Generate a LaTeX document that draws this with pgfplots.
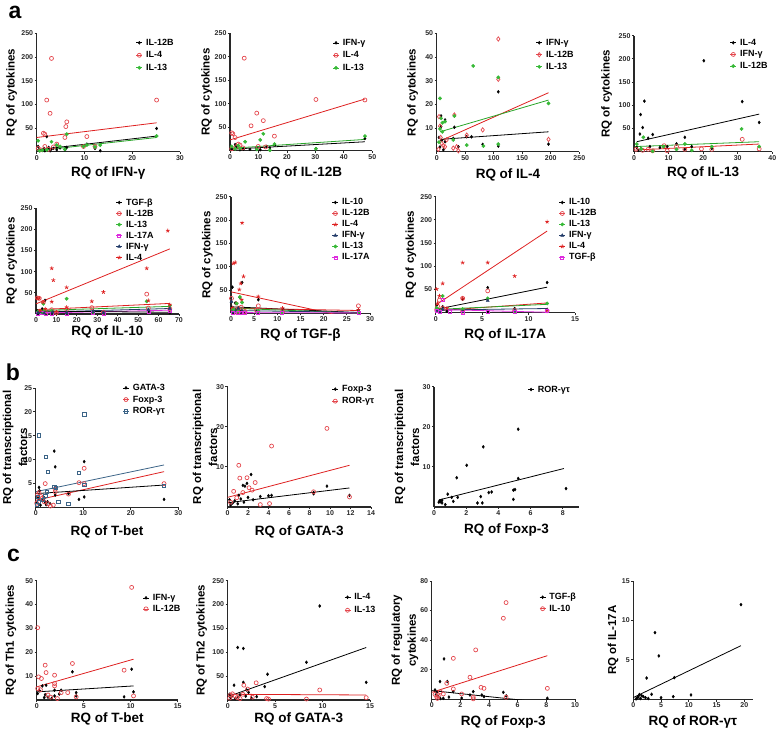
\documentclass[border=0pt]{standalone}
\usepackage{fontspec}
\setmainfont{Liberation Sans}
\usepackage{pgfplots}
\pgfplotsset{compat=1.18}
\definecolor{pred}{RGB}{228,72,78}
\definecolor{lred}{RGB}{222,32,32}
\definecolor{pgreen}{RGB}{55,185,55}
\definecolor{lgreen}{RGB}{40,165,40}
\definecolor{pmag}{RGB}{222,45,222}
\definecolor{pnavy}{RGB}{35,60,105}
\definecolor{psteel}{RGB}{60,100,135}
\definecolor{axc}{RGB}{40,40,40}
\newcommand\tickf{\fontsize{7}{8}\selectfont\bfseries}
\newcommand\xlabf{\fontsize{13.5}{15}\selectfont\bfseries}
\newcommand\ylabf{\fontsize{11.5}{16}\selectfont\bfseries}
\newcommand\legf{\fontsize{9}{10}\selectfont\bfseries}
\newcommand\panelf{\fontsize{23}{25}\selectfont\bfseries}
\pgfplotsset{
 prism/.style={
  scale only axis, anchor=south west,
  axis x line=bottom, axis y line=left,
  axis line style={-, line width=1.1pt, draw=axc},
  every inner x axis line/.append style={-},
  every inner y axis line/.append style={-},
  every outer x axis line/.append style={-},
  every outer y axis line/.append style={-},
  tick style={line width=0.8pt, draw=axc},
  tick align=outside, major tick length=2.2pt,
  ticklabel style={font=\tickf, text=axc, inner sep=1.2pt},
  /pgf/number format/assume math mode=true,
  /pgf/number format/1000 sep={},
  legend cell align=left,
  legend style={draw=none, fill=none, inner sep=0pt, outer sep=0pt, anchor=north west, font=\legf, column sep=3pt, row sep=3.5pt, nodes={inner sep=0.5pt, text height=6.5pt, text depth=1.5pt}},
  legend image code/.code={\draw[#1, mark=none, line width=0.6pt] (0pt,0pt) -- (6pt,0pt); \draw[#1] plot coordinates {(3pt,0pt)};},
 },
 xlsh/.style={every axis x label/.style={at={(axis description cs:0.5,0)},yshift=#1,anchor=center,font=\xlabf}},
 ylsh/.style={every axis y label/.style={at={(axis description cs:0,0.5)},xshift=#1,rotate=90,anchor=center,font=\ylabf,align=center}},
 bk/.style={only marks, mark=diamond*, mark size=1.5pt, black},
 rc/.style={only marks, mark=o, mark size=2pt, pred, line width=0.7pt},
 rd/.style={only marks, mark=diamond, mark size=2.2pt, pred, line width=0.7pt},
 gn/.style={only marks, mark=*, mark size=1.7pt, pgreen},
 mg/.style={only marks, mark=square, mark size=1.5pt, pmag, line width=0.7pt},
 nv/.style={only marks, mark=triangle*, mark size=1.8pt, pnavy},
 st/.style={only marks, mark=star, mark size=2pt, lred, line width=0.7pt},
 sb/.style={only marks, mark=square, mark size=1.7pt, psteel, line width=0.7pt},
 fit/.style={no marks, line width=0.8pt, forget plot},
}
\begin{document}
\begin{tikzpicture}
\useasboundingbox (0,0) rectangle (778pt,730pt);
\node[font=\panelf] at (15pt,718pt) {a};
\node[font=\panelf] at (13pt,358pt) {b};
\node[font=\panelf] at (13.5pt,175pt) {c};
% ---------- P1
\begin{axis}[prism, at={(36.7pt,578.3pt)}, width=143.3pt, height=118.4pt,
 xmin=0,xmax=30,ymin=0,ymax=250, xtick={0,10,20,30}, ytick={50,100,150,200,250},
 xlsh=-21.3pt, ylsh=-25pt, xlabel={RQ of IFN-γ}, ylabel={RQ of cytokines},
 legend style={at={(axis description cs:0.693,0.958)}}]
\addplot[bk] coordinates {(0.3,11) (0.5,5) (1.2,3) (1.7,2) (2.1,32) (2.8,2) (3.1,6) (3.5,7) (4.2,4) (4.9,8) (6.3,9) (6.1,6) (10.5,16) (12.2,7) (13.3,2) (25.1,49) (5.9,4) (1.5,7) (2.5,9)};
\addlegendentry{IL-12B}
\addplot[rc] coordinates {(3.1,197) (2.1,109) (2.8,81) (6.3,63) (6.1,53) (5.9,30) (1.4,39) (1.7,37) (10.5,32) (25.1,109) (1.7,11) (0.3,7) (9.8,11) (12.2,11) (3.5,10) (4.2,16) (0.8,4) (2.5,5)};
\addlegendentry{IL-4}
\addplot[gn] coordinates {(0.3,23) (6.3,37) (3.1,21) (13.3,14) (25.1,33) (9.8,11) (4.9,11) (1.2,3) (2.1,4) (12.2,10) (5.9,5) (0.6,2) (10.5,14) (4.2,14)};
\addlegendentry{IL-13}
\addplot[fit,lred] coordinates {(0,30) (25.1,61)};
\addplot[fit,black] coordinates {(0,4) (25.1,33)};
\addplot[fit,lgreen] coordinates {(0,2) (25.1,30)};
\end{axis}
% ---------- P2
\begin{axis}[prism, at={(230pt,579.3pt)}, width=142.3pt, height=117.4pt,
 xmin=0,xmax=50,ymin=0,ymax=250, xtick={0,10,20,30,40,50}, ytick={50,100,150,200,250},
 xlsh=-22.6pt, ylsh=-23.3pt, xlabel={RQ of IL-12B}, ylabel={RQ of cytokines},
 legend style={at={(axis description cs:0.722,0.957)}}]
\addplot[bk] coordinates {(47.4,26) (30.2,4) (15.8,12) (12.9,9) (9.4,5) (2.3,9) (0.6,3) (4.7,3) (7.0,3) (1.8,13) (3.5,2) (10.6,2) (14,6)};
\addlegendentry{IFN-γ}
\addplot[rc] coordinates {(5.0,197) (30.2,109) (47.4,108) (9.4,80) (7.4,53) (11.7,64) (15.6,31) (0.6,38) (1.0,36) (1.8,28) (2.9,14) (3.5,12) (9.9,9) (2.3,9) (0.6,4) (4.5,6) (12.5,8)};
\addlegendentry{IL-4}
\addplot[gn] coordinates {(5.3,19) (11.7,36) (10.6,23) (47.4,31) (15.6,14) (14,1) (0.6,9) (3.5,5) (1.8,4) (2.9,11) (30.2,4) (9.4,3)};
\addlegendentry{IL-13}
\addplot[fit,lred] coordinates {(0,23) (47.4,110)};
\addplot[fit,lgreen] coordinates {(0,5) (47.4,24)};
\addplot[fit,black] coordinates {(0,3) (47.4,19)};
\end{axis}
% ---------- P3
\begin{axis}[prism, at={(436.7pt,578.3pt)}, width=142.6pt, height=118.4pt,
 xmin=0,xmax=250,ymin=0,ymax=50, xtick={0,50,100,150,200,250}, ytick={10,20,30,40,50},
 xlsh=-23.3pt, ylsh=-24pt, xlabel={RQ of IL-4}, ylabel={RQ of cytokines},
 legend style={at={(axis description cs:0.696,0.958)}, row sep=3pt}]
\addplot[bk] coordinates {(108,25.3) (7.6,15.1) (14.6,13.4) (31,10.3) (7.6,10.6) (52.6,6.3) (61,6.3) (29,5.6) (14.6,4.2) (196,3.2) (108,2.4) (80.6,3.1) (38,2.1) (5.8,2) (8.8,4.8) (11.7,0.8) (4,6)};
\addlegendentry{IFN-γ}
\addplot[rd] coordinates {(108,47.6) (108,30.6) (31,15.5) (80.6,9.2) (52.6,7) (196,5.2) (5.8,10.8) (8.8,3.5) (11.7,2.5) (14.6,2.1) (35,2.1) (38,0.4) (29,1.5) (3,1) (17.5,5) (7,6) (4,14.8)};
\addlegendentry{IL-12B}
\addplot[gn] coordinates {(64,36.2) (108,31.4) (5.8,22.5) (196,20.4) (31,15.1) (7.6,14.1) (10,12.2) (14.6,12.7) (52.6,2.8) (108,3.2) (82,2.4) (10,8.4) (5.8,9.6) (29,5) (4,4)};
\addlegendentry{IL-13}
\addplot[fit,lred] coordinates {(3,4.2) (196,24.9)};
\addplot[fit,lgreen] coordinates {(5.8,8.4) (196,21.8)};
\addplot[fit,black] coordinates {(5.8,5.2) (196,8.4)};
\end{axis}
% ---------- P4
\begin{axis}[prism, at={(634pt,578.3pt)}, width=138.3pt, height=116pt,
 xmin=0,xmax=40,ymin=0,ymax=250, xtick={0,10,20,30,40}, ytick={50,100,150,200,250},
 xlsh=-21.6pt, ylsh=-27.3pt, xlabel={RQ of IL-13}, ylabel={RQ of cytokines},
 legend style={at={(axis description cs:0.694,0.978)}, row sep=2.7pt}]
\addplot[bk] coordinates {(20.2,196) (31.3,108) (3,109) (1.9,80) (2.5,52) (5.4,37) (1.7,38) (36.2,63) (14.7,31) (4.1,29) (0.8,9) (4.6,11) (7.5,9) (9.6,11) (12.3,17) (16.7,11) (22.5,7) (2.0,6) (14.7,5) (1.2,3)};
\addlegendentry{IL-4}
\addplot[rc] coordinates {(31.3,26.6) (8.7,13) (12.3,11) (36.2,6) (0.6,5) (4.1,5) (14.7,5) (22.5,5) (19.5,6) (2.5,3) (5.4,2) (9.6,2)};
\addlegendentry{IFN-γ}
\addplot[gn] coordinates {(2.7,31) (31.1,49) (0.8,16.5) (14.7,16.5) (36.2,11) (8.5,11) (22.5,11) (2.1,6) (5.4,1) (12.3,5) (16.7,3)};
\addlegendentry{IL-12B}
\addplot[fit,black] coordinates {(0.8,21.5) (36.2,81)};
\addplot[fit,lgreen] coordinates {(0.3,11) (36.2,21.5)};
\addplot[fit,lred] coordinates {(0.3,3.6) (36.2,16.5)};
\end{axis}
% ---------- P5
\begin{axis}[prism, at={(36pt,416pt)}, width=143pt, height=105.7pt,
 xmin=0,xmax=70,ymin=0,ymax=250, xtick={0,10,20,30,40,50,60,70}, ytick={50,100,150,200,250},
 xlsh=-17.5pt, ylsh=-24.3pt, xlabel={RQ of IL-10}, ylabel={RQ of cytokines},
 legend style={at={(axis description cs:0.559,1.097)}, row sep=2pt}]
\addplot[bk] coordinates {(4.4,32) (3.0,12) (0.5,8) (1.5,5) (2.2,3) (7.7,5) (15,4) (28,7) (55,6) (65.5,3) (8.5,2) (33,2) (1.0,2)};
\addlegendentry{TGF-β}
\addplot[rc] coordinates {(54.2,47) (27.3,15) (15,11) (7.7,10) (0.7,38) (1.6,37) (3.6,28) (65.5,12) (2,6) (4.5,5) (33,4) (10,3) (55,14)};
\addlegendentry{IL-12B}
\addplot[gn] coordinates {(15,36) (3.6,24) (54.2,30) (65.5,20) (1,6) (7.7,8) (28,5) (2.5,3) (4,9)};
\addlegendentry{IL-13}
\addplot[mg] coordinates {(65.5,8) (55,6) (1,1) (3,2) (8,1) (15,1) (28,3) (33,1) (5,0.5)};
\addlegendentry{IL-17A}
\addplot[nv] coordinates {(1,3) (4,2) (8,4) (15,3) (28,6) (55,10) (65.5,13) (2,5) (33,3)};
\addlegendentry{IFN-γ}
\addplot[st] coordinates {(64.5,197) (54.2,108) (7.7,108) (8.5,80) (15,63) (33,52) (27.3,30) (0.7,37) (1.6,37) (3.6,28) (7.7,29) (15,16) (55,32) (2,8) (4.5,12) (10,5) (65.5,22)};
\addlegendentry{IL-4}
\addplot[fit,lred] coordinates {(0,24) (65.5,154)};
\addplot[fit,lred] coordinates {(0,10) (65.5,25)};
\addplot[fit,lgreen] coordinates {(0,8) (65.5,18)};
\addplot[fit,pnavy] coordinates {(0,4) (65.5,13)};
\addplot[fit,pmag] coordinates {(0,2) (65.5,9)};
\addplot[fit,black] coordinates {(0,7) (65.5,4)};
\end{axis}
% ---------- P6
\begin{axis}[prism, at={(231pt,416.7pt)}, width=139pt, height=116.6pt,
 xmin=0,xmax=30,ymin=0,ymax=250, xtick={0,5,10,15,20,25,30}, ytick={50,100,150,200,250},
 xlsh=-21.7pt, ylsh=-23.5pt, xlabel={RQ of TGF-β}, ylabel={RQ of cytokines},
 legend style={at={(axis description cs:0.727,0.989)}, row sep=2pt}]
\addplot[bk] coordinates {(0.3,56) (2.4,66) (1.9,34) (5.9,29) (11.2,9) (27.5,7) (0.9,22) (1.6,12) (2.2,5) (0.5,3) (1.2,8) (5.5,4) (2.7,2)};
\addlegendentry{IL-10}
\addplot[rc] coordinates {(0.1,32) (5.9,16) (27.5,16) (1.6,10) (3,4) (0.4,7) (2.2,13) (5.5,7) (11.1,3) (1.2,2)};
\addlegendentry{IL-12B}
\addplot[st] coordinates {(2.4,194) (0.5,107) (0.9,109) (2.7,79) (2.1,64) (1.8,51) (5.9,36) (2.3,29) (1.2,21) (11.1,11) (27.5,7) (0.3,12) (1.6,5)};
\addlegendentry{IL-4}
\addplot[nv] coordinates {(0.1,25) (1.6,10) (2.4,5) (0.4,3) (5.9,5) (11.1,3) (27.5,3) (1.0,6)};
\addlegendentry{IFN-γ}
\addplot[gn] coordinates {(1.2,21) (2.4,23) (1.9,35) (0.5,8) (5.9,5) (11,2) (27.5,2) (1.5,4)};
\addlegendentry{IL-13}
\addplot[mg] coordinates {(1.5,2) (2.2,1) (0.5,1) (3,0.5) (5.9,1) (11,1) (27.5,1)};
\addlegendentry{IL-17A}
\addplot[fit,lred] coordinates {(0,46) (27.5,-13.1)};
\addplot[fit,black] coordinates {(0,14) (27.5,1.5)};
\addplot[fit,lred] coordinates {(0,11) (27.5,6)};
\addplot[fit,lgreen] coordinates {(0,11) (27.5,0.5)};
\addplot[fit,pnavy] coordinates {(0,6) (27.5,2)};
\addplot[fit,pmag] coordinates {(0,1.5) (27.5,0.8)};
\end{axis}
% ---------- P7
\begin{axis}[prism, at={(435.7pt,417.3pt)}, width=139.3pt, height=116pt,
 xmin=0,xmax=15,ymin=0,ymax=250, xtick={0,5,10,15}, ytick={50,100,150,200,250},
 xlsh=-22.3pt, ylsh=-24.7pt, xlabel={RQ of IL-17A}, ylabel={RQ of cytokines},
 legend style={at={(axis description cs:0.885,0.989)}, row sep=2pt}]
\addplot[bk] coordinates {(12,65) (5.6,54) (2.9,29) (0.75,13) (0.1,16) (8.5,9) (0.4,5) (0.2,8) (1.2,3) (2.9,4) (5.6,3) (12,7)};
\addlegendentry{IL-10}
\addplot[rc] coordinates {(5.6,47) (2.9,31) (0.4,27) (0.75,10) (12,4) (0.1,6) (2.9,3) (8.5,5) (0.2,14)};
\addlegendentry{IL-12B}
\addplot[gn] coordinates {(0.75,36) (5.6,31) (12,20) (0.1,10) (0.4,6) (2.9,8) (8.5,3)};
\addlegendentry{IL-13}
\addplot[nv] coordinates {(5.6,26) (0.1,4) (0.4,3) (2.9,2) (8.5,5) (12,6) (0.75,7)};
\addlegendentry{IFN-γ}
\addplot[st] coordinates {(12,196) (2.9,108) (5.6,108) (8.5,79) (0.75,63) (0.1,51) (0.4,36) (2.9,31) (0.2,20) (1.2,10) (12,5)};
\addlegendentry{IL-4}
\addplot[mg] coordinates {(0.75,27) (2.9,0.5) (5.6,1) (12,3) (0.1,3) (0.4,1) (8.5,1) (1.5,2)};
\addlegendentry{TGF-β}
\addplot[fit,lred] coordinates {(0,16.5) (12,176)};
\addplot[fit,black] coordinates {(0,7) (12,55)};
\addplot[fit,lred] coordinates {(0,4) (12,21)};
\addplot[fit,lgreen] coordinates {(0,7) (12,18)};
\addplot[fit,pnavy] coordinates {(0,5.7) (12,9)};
\addplot[fit,pmag] coordinates {(0,7) (12,1)};
\end{axis}
% ---------- P8
\begin{axis}[prism, at={(35.7pt,222.5pt)}, width=142.6pt, height=119.5pt,
 xmin=0,xmax=30,ymin=0,ymax=25, xtick={0,10,20,30}, ytick={5,10,15,20,25},
 xlsh=-24.2pt, ylsh=-20.7pt, xlabel={RQ of T-bet}, ylabel={RQ of transcriptional\\factors},
 legend style={at={(axis description cs:0.61,1.039)}, row sep=2.7pt}]
\addplot[bk] coordinates {(3.9,11.8) (10.2,9.6) (4.1,8.5) (0.7,4.2) (6.9,2.9) (9.1,1.7) (10.2,2.2) (27,1.7) (4.1,2.6) (0.3,1) (0.5,2) (1,0.5) (1.5,1.5) (2,1) (2.5,1.2) (3,0.8) (0.8,3.5) (1.8,2) (2.2,0.6)};
\addlegendentry{GATA-3}
\addplot[rc] coordinates {(10.2,8.2) (9.1,5.2) (10.2,5) (27,5) (2,5) (4.1,3.8) (4.1,3.3) (6.9,2.8) (0.7,3.1) (0.4,2.7) (1.3,1.9) (1.8,1.2) (2.6,0.8) (3.7,0.5) (3.1,0.3) (0.2,0.9) (1.1,2.3)};
\addlegendentry{Foxp-3}
\addplot[sb] coordinates {(10.2,19.5) (0.7,15.1) (2.1,10.6) (2.5,7.5) (9.1,7.3) (10.2,4.8) (3.9,4.3) (4.2,4.1) (2.3,3.3) (27,4.5) (0.7,1.2) (4.8,1.2) (6.9,0.8) (0.3,0.5) (1.5,1.6) (0.5,2.2) (2,2.4)};
\addlegendentry{ROR-γτ}
\addplot[fit,psteel] coordinates {(0,3.3) (27,8.9)};
\addplot[fit,lred] coordinates {(0,1.5) (27,7.5)};
\addplot[fit,black] coordinates {(0,2.9) (27,4.7)};
\end{axis}
% ---------- P9
\begin{axis}[prism, at={(227.5pt,223pt)}, width=143.5pt, height=120.3pt,
 xmin=0,xmax=14,ymin=0,ymax=30, xtick={0,2,4,6,8,10,12,14}, ytick={10,20,30},
 xlsh=-24.7pt, ylsh=-22.5pt, xlabel={RQ of GATA-3}, ylabel={RQ of transcriptional\\factors},
 legend style={at={(axis description cs:0.728,1.017)}, row sep=3pt}]
\addplot[bk] coordinates {(2.3,8.1) (1.9,5.9) (9.7,5.2) (8.4,3.6) (8.4,3.3) (11.9,2.9) (4.3,2.9) (4,2.8) (3.2,2.6) (0.3,0.5) (0.5,1) (0.7,1.5) (1,0.8) (1.3,2) (1.6,1.2) (2,2.4) (2.5,1.8) (0.2,1.8) (1.1,2.9) (1.5,5.4) (1.7,5.2)};
\addlegendentry{Foxp-3}
\addplot[rc] coordinates {(9.7,19.6) (4.3,15.2) (3.2,0.6) (4.1,0.85) (11.9,2.5) (8.4,3.8) (1.1,10.4) (1.9,7.3) (1.2,7.2) (2.7,6.1) (2.1,4.8) (0.6,3.9) (1.5,3.6) (0.9,2.3) (0.3,1.2) (2.4,4.2)};
\addlegendentry{ROR-γτ}
\addplot[fit,lred] coordinates {(0,2.4) (11.9,10.4)};
\addplot[fit,black] coordinates {(0,1.06) (11.9,4.75)};
\end{axis}
% ---------- P10
\begin{axis}[prism, at={(434pt,223pt)}, width=144.9pt, height=120.3pt,
 xmin=0,xmax=9,ymin=0,ymax=30, xtick={0,2,4,6,8}, ytick={10,20,30},
 xlsh=-23.5pt, ylsh=-27pt, xlabel={RQ of Foxp-3}, ylabel={RQ of transcriptional\\factors},
 legend style={at={(axis description cs:0.647,1.014)}}]
\addplot[bk] coordinates {(3.06,15) (2.03,10.4) (1.41,7.3) (4.93,4.2) (3.58,3.75) (3.4,3.6) (0.85,3.2) (1.47,2.4) (1.1,2.4) (2.9,2.6) (0.5,1.7) (0.35,1.5) (0.42,1.3) (0.5,1) (0.7,0.6) (2.7,1) (3,1) (1.2,1.4) (5.23,19.4) (5.23,7.1) (5.03,4.35) (4.93,1.9) (8.2,4.6) (0.3,1.2)};
\addlegendentry{ROR-γτ}
\addplot[fit,black] coordinates {(0.3,1.75) (8.07,9.6)};
\end{axis}
% ---------- P11
\begin{axis}[prism, at={(36.7pt,30pt)}, width=141pt, height=119.3pt,
 xmin=0,xmax=15,ymin=0,ymax=50, xtick={0,5,10,15}, ytick={10,20,30,40,50},
 xlsh=-19pt, ylsh=-25.7pt, xlabel={RQ of T-bet}, ylabel={RQ of Th1 cytokines},
 legend style={at={(axis description cs:0.752,0.894)}, row sep=2pt}]
\addplot[bk] coordinates {(10.1,12.9) (3.8,11.8) (1.9,4.1) (1,6.2) (0.6,5.9) (0.1,2.7) (2.6,4.1) (4.2,3.1) (4.2,1.7) (9.3,1.3) (10.3,3.4) (1.2,1.2) (1.9,1.7) (0.8,1) (0.3,3.9) (2.4,2.5) (0.9,2.2) (1.6,0.7)};
\addlegendentry{IFN-γ}
\addplot[rc] coordinates {(10.1,47.2) (0.1,30.3) (9.3,12.5) (0.9,14.6) (1,11.5) (3.8,15.3) (1.9,10.4) (0.2,9.7) (0.5,9) (1.9,6.9) (1.9,5.9) (0.1,4.8) (2.6,3.1) (3.3,3.1) (4.2,1.3) (10.3,1.7) (2.2,0.6) (1.2,2.1) (1.5,1.2) (0.4,4.3)};
\addlegendentry{IL-12B}
\addplot[fit,lred] coordinates {(0,5.5) (10.3,17.1)};
\addplot[fit,black] coordinates {(0,3.4) (10.3,5.9)};
\end{axis}
% ---------- P12
\begin{axis}[prism, at={(227.7pt,30pt)}, width=142.3pt, height=119.3pt,
 xmin=0,xmax=15,ymin=0,ymax=250, xtick={0,5,10,15}, ytick={50,100,150,200,250},
 xlsh=-19pt, ylsh=-26pt, xlabel={RQ of GATA-3}, ylabel={RQ of Th2 cytokines},
 legend style={at={(axis description cs:0.819,0.899)}, row sep=4pt}]
\addplot[bk] coordinates {(9.7,197) (1.05,110) (1.65,108) (8.3,79) (4.2,54) (14.6,37) (1.65,37) (0.67,31) (3.9,28) (2,21) (2.2,16) (1.3,11) (3.05,7) (0.3,5) (0.5,9) (0.8,3) (1.1,6) (2.5,4) (0.2,12) (1.9,8)};
\addlegendentry{IL-4}
\addplot[rc] coordinates {(9.7,21) (3.0,36) (1.7,31) (2.1,23) (14.6,5) (8.3,2) (0.3,10) (0.5,13) (0.8,8) (1.0,5) (1.3,3) (1.6,12) (4.1,3) (4.3,2) (2.6,6) (0.2,4)};
\addlegendentry{IL-13}
\addplot[fit,black] coordinates {(0,7) (14.6,110)};
\addplot[fit,lred] coordinates {(0,12) (14.6,10.5)};
\end{axis}
% ---------- P13
\begin{axis}[prism, at={(431.7pt,30.7pt)}, width=143.3pt, height=118.3pt,
 xmin=0,xmax=10,ymin=0,ymax=80, xtick={0,2,4,6,8,10}, ytick={20,40,60,80},
 xlsh=-22.4pt, ylsh=-26.7pt, xlabel={RQ of Foxp-3}, ylabel={RQ of regulatory\\cytokines},
 legend style={at={(axis description cs:0.751,0.901)}, row sep=2.5pt}]
\addplot[bk] coordinates {(0.86,27.3) (0.58,12) (1.09,12) (0.23,6.3) (0.35,4.7) (2.9,5.2) (5,4.7) (1.5,5.2) (2.67,2.9) (3.5,2.9) (3.65,1.8) (5.2,2.3) (8.07,0.7) (2.09,0.8) (0.81,0.7) (0.3,3) (0.45,2) (1.2,1.5) (0.6,0.5)};
\addlegendentry{TGF-β}
\addplot[rc] coordinates {(5.19,65.4) (5,54.8) (3.07,33.4) (1.51,27.7) (2.67,14.9) (1.05,10.8) (3.44,8.1) (3.65,7.4) (8.07,7.4) (1.51,7) (2.09,3.6) (0.81,3.6) (0.46,2.3) (0.35,1.6) (0.23,3.3) (2.9,1.4) (2.9,0.3) (5.19,1.4) (0.6,5) (0.4,0.6)};
\addlegendentry{IL-10}
\addplot[fit,lred] coordinates {(0,4.7) (8.07,29.5)};
\addplot[fit,black] coordinates {(0,5.9) (8.07,-2.4)};
\end{axis}
% ---------- P14
\begin{axis}[prism, at={(633.3pt,30.7pt)}, width=119.3pt, height=118.3pt,
 xmin=0,xmax=21.5,ymin=0,ymax=15, xtick={0,5,10,15,20}, ytick={5,10,15},
 xlsh=-22.4pt, ylsh=-20.3pt, xlabel={RQ of ROR-γτ}, ylabel={RQ of IL-17A}]
\addplot[bk] coordinates {(19.4,12) (3.9,8.45) (4.6,5.5) (2.4,2.7) (7.4,2.75) (1.1,0.6) (1.5,0.46) (0.7,0.2) (1.8,0.34) (3.3,0.63) (5,0.2) (7.2,0.34) (10.4,0.55) (2.7,0.1) (2.2,0.2) (1.3,0.1) (0.5,0.05) (0.9,0.3)};
\addplot[fit,black] coordinates {(0,0.22) (19.4,6.8)};
\end{axis}
\end{tikzpicture}
\end{document}
